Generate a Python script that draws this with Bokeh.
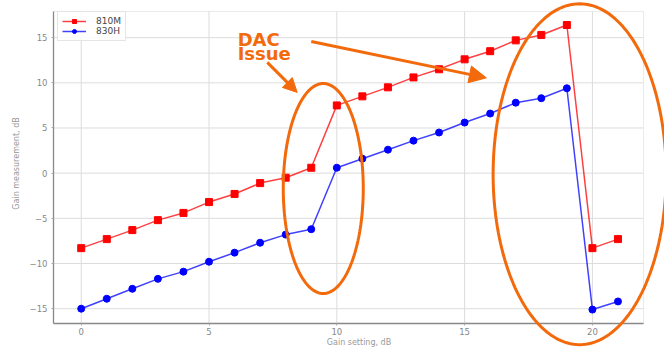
import numpy as np
from bokeh.plotting import figure
from bokeh.layouts import column
from bokeh.models import (FixedTicker, PolyAnnotation, Arrow, NormalHead, Label,
                          CustomJSTickFormatter, Range1d, BoxAnnotation)
from bokeh.embed import file_html
from bokeh.resources import INLINE

# ---- data ----
gain_setting = list(range(22))
m810 = [-8.3, -7.3, -6.3, -5.2, -4.4, -3.2, -2.3, -1.1, -0.5, 0.6,
        7.5, 8.5, 9.5, 10.6, 11.5, 12.6, 13.5, 14.7, 15.3, 16.4, -8.3, -7.3]
h830 = [-15.0, -13.9, -12.8, -11.7, -10.9, -9.8, -8.8, -7.7, -6.8, -6.2,
        0.6, 1.6, 2.6, 3.6, 4.5, 5.6, 6.6, 7.8, 8.3, 9.4, -15.1, -14.2]
series_names = ["810M", "830H"]
x_ticks = [0, 5, 10, 15, 20]
y_ticks = [-15, -10, -5, 0, 5, 10, 15]

# ---- layout ----
W, H = 664, 349
B_LEFT, B_TOP, B_RIGHT, B_BOTTOM = 53, 3, 0, 24
# visible axes box (data units); the drawing frame extends a bit beyond it
VIS_X = (-1.084, 22.0)
VIS_Y = (-16.64, 17.9)
CANVAS_X = (-1.084, 22.82)
CANVAS_Y = (-16.64, 18.78)

# ---- annotation geometry (data units) ----
ORANGE = "#f26a0c"
ellipses = [  # (cx, cy, width, height)
    (9.47, -1.57, 3.13, 23.1),
    (19.5, 0.0, 6.77, 37.5),
]
arrows = [  # (x0, y0, x1, y1, head size)
    (7.28, 12.3, 8.45, 9.0, 14),
    (9.0, 14.6, 15.85, 10.6, 17),
]
labels = [("DAC", 6.12, 14.8), ("Issue", 6.12, 13.25)]

p = figure(width=W, height=H, output_backend="svg", toolbar_location=None,
           x_range=Range1d(*CANVAS_X), y_range=Range1d(*CANVAS_Y),
           min_border_left=B_LEFT, min_border_right=B_RIGHT, min_border_top=B_TOP,
           min_border_bottom=B_BOTTOM)

p.background_fill_color = "white"
p.border_fill_color = "white"
p.outline_line_color = None
p.grid.visible = False

for ax in (p.xaxis[0], p.yaxis[0]):
    ax.axis_line_color = "#888888"
    ax.axis_line_width = 1.3
    ax.major_tick_line_color = "#aaaaaa"
    ax.major_tick_out = 2
    ax.major_tick_in = 0
    ax.minor_tick_line_color = None
    ax.major_label_text_color = "#888888"
    ax.major_label_text_font = "DejaVu Sans"
    ax.major_label_text_font_size = "8.5px"
    ax.axis_label_text_color = "#999999"
    ax.axis_label_text_font = "DejaVu Sans"
    ax.axis_label_text_font_size = "8px"
    ax.axis_label_text_font_style = "normal"
    ax.major_label_standoff = 2
    ax.axis_label_standoff = 0
    ax.formatter = CustomJSTickFormatter(
        code="return tick < 0 ? '\\u2212' + Math.abs(tick) : String(tick);")

p.xaxis.ticker = FixedTicker(ticks=x_ticks)
p.yaxis.ticker = FixedTicker(ticks=y_ticks)
p.xaxis.bounds = VIS_X
p.yaxis.bounds = VIS_Y
p.xaxis.axis_label = "Gain setting, dB"
p.yaxis.axis_label = "Gain measurement, dB"
p.yaxis.major_label_standoff = 4
p.yaxis.axis_label_standoff = 6

# grid lines limited to the visible box
p.segment(x0=x_ticks, y0=[VIS_Y[0]] * len(x_ticks), x1=x_ticks,
          y1=[VIS_Y[1]] * len(x_ticks), line_color="#dcdcdc", line_width=1)
p.segment(x0=[VIS_X[0]] * len(y_ticks), y0=y_ticks, x1=[VIS_X[1]] * len(y_ticks),
          y1=y_ticks, line_color="#dcdcdc", line_width=1)
p.add_layout(BoxAnnotation(left=VIS_X[0], right=VIS_X[1], bottom=VIS_Y[0],
                           top=VIS_Y[1], fill_alpha=0, line_color="#bbbbbb",
                           line_width=1, level="underlay"))

p.line(gain_setting, m810, line_color="red", line_alpha=0.75, line_width=1.5,
       legend_label=series_names[0])
p.scatter(gain_setting, m810, marker="square", size=7, fill_color="red",
          line_color="red", legend_label=series_names[0])
p.line(gain_setting, h830, line_color="blue", line_alpha=0.75, line_width=1.5,
       legend_label=series_names[1])
p.scatter(gain_setting, h830, marker="circle", size=7, fill_color="blue",
          line_color="blue", legend_label=series_names[1])

lg = p.legend[0]
lg.location = (4, 282)
lg.margin = 0
lg.padding = 4
lg.spacing = 0
lg.glyph_width = 24
lg.glyph_height = 10
lg.label_height = 10
lg.label_standoff = 10
lg.label_text_font = "DejaVu Sans"
lg.label_text_font_size = "9px"
lg.label_text_color = "#444444"
lg.border_line_color = "#cccccc"
lg.background_fill_alpha = 0.85

# ---- transparent overlay (same horizontal frame, full height) for the hand-drawn marks ----
fh = H - B_TOP - B_BOTTOM
sy = (CANVAS_Y[1] - CANVAS_Y[0]) / fh
ov = figure(width=W, height=H, output_backend="svg", toolbar_location=None,
            x_range=Range1d(*CANVAS_X),
            y_range=Range1d(CANVAS_Y[0] - B_BOTTOM * sy, CANVAS_Y[1] + B_TOP * sy),
            x_axis_type=None, y_axis_type=None,
            min_border_left=B_LEFT, min_border_right=B_RIGHT,
            min_border_top=0, min_border_bottom=0,
            styles={"margin-top": f"-{H}px"})
ov.background_fill_alpha = 0
ov.border_fill_alpha = 0
ov.outline_line_color = None
ov.grid.visible = False

t = np.linspace(0, 2 * np.pi, 181)
for cx, cy, w, h in ellipses:
    ov.add_layout(PolyAnnotation(xs=list(cx + w / 2 * np.cos(t)),
                                 ys=list(cy + h / 2 * np.sin(t)),
                                 fill_alpha=0, line_color=ORANGE, line_alpha=1,
                                 line_width=3))

for x0, y0, x1, y1, s in arrows:
    ov.add_layout(Arrow(end=NormalHead(size=s, fill_color=ORANGE, line_color=ORANGE,
                                       line_width=1),
                        x_start=x0, y_start=y0, x_end=x1, y_end=y1,
                        line_color=ORANGE, line_width=3))

for txt, lx, ly in labels:
    ov.add_layout(Label(x=lx, y=ly, text=txt, text_color=ORANGE,
                        text_font="DejaVu Sans", text_font_style="bold",
                        text_font_size="18px", text_baseline="alphabetic"))

layout = column(p, ov, spacing=0)
open("out.html", "w").write(file_html(layout, INLINE))
